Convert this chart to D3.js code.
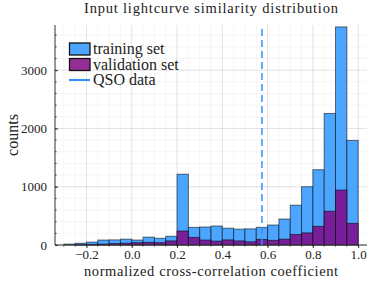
<!DOCTYPE html>
<html>
<head>
<meta charset="utf-8">
<script src="https://cdn.jsdelivr.net/npm/d3@7"></script>
<style>
  body { margin: 0; background: #fff; }
  text { font-family: "Liberation Serif", "DejaVu Serif", serif; fill: #222; }
</style>
</head>
<body>
<script>
// lower edges of the histogram bins (width 0.05)
const binStarts = [-0.30, -0.25, -0.20, -0.15, -0.10, -0.05, 0.00, 0.05, 0.10, 0.15,
                   0.20, 0.25, 0.30, 0.35, 0.40, 0.45, 0.50, 0.55, 0.60, 0.65,
                   0.70, 0.75, 0.80, 0.85, 0.90, 0.95];
const binWidth = 0.05;
const trainingCounts = [15, 30, 50, 85, 88, 100, 85, 135, 115, 150,
                        1215, 303, 309, 326, 288, 272, 277, 303, 343, 446,
                        683, 1000, 1292, 2257, 3742, 1795];
const validationCounts = [0, 5, 10, 15, 25, 30, 40, 45, 40, 70,
                          240, 130, 85, 66, 88, 70, 55, 95, 80, 100,
                          180, 208, 320, 580, 943, 372];
const qsoValue = 0.575;
const xTicks = [-0.2, 0.0, 0.2, 0.4, 0.6, 0.8, 1.0];
const yTicks = [0, 1000, 2000, 3000];

const width = 381, height = 286;
const margin = {top: 25, right: 14, bottom: 41, left: 55};
const serif = "'Liberation Serif', 'DejaVu Serif', serif";

const svg = d3.select("body").append("svg")
    .attr("width", width)
    .attr("height", height);

const x = d3.scaleLinear()
    .domain([-0.339, 1.039])
    .range([margin.left, width - margin.right]);

const y = d3.scaleLinear()
    .domain([0, 3775])
    .range([height - margin.bottom, margin.top]);

// grid, minor then major
const xMinor = d3.range(-0.3, 1.0001, 0.05);
const yMinor = d3.range(0, 3775, 200);
const grid = svg.append("g");
grid.selectAll(".xm").data(xMinor).join("line")
    .attr("x1", d => x(d)).attr("x2", d => x(d))
    .attr("y1", y.range()[0]).attr("y2", y.range()[1])
    .attr("stroke", "#000").attr("stroke-opacity", 0.04);
grid.selectAll(".ym").data(yMinor).join("line")
    .attr("x1", x.range()[0]).attr("x2", x.range()[1])
    .attr("y1", d => y(d)).attr("y2", d => y(d))
    .attr("stroke", "#000").attr("stroke-opacity", 0.04);
grid.selectAll(".xg").data(xTicks).join("line")
    .attr("x1", d => x(d)).attr("x2", d => x(d))
    .attr("y1", y.range()[0]).attr("y2", y.range()[1])
    .attr("stroke", "#000").attr("stroke-opacity", 0.08);
grid.selectAll(".yg").data(yTicks).join("line")
    .attr("x1", x.range()[0]).attr("x2", x.range()[1])
    .attr("y1", d => y(d)).attr("y2", d => y(d))
    .attr("stroke", "#000").attr("stroke-opacity", 0.08);

// bars
function drawBars(counts, color) {
    svg.append("g").selectAll("rect")
        .data(counts.map((c, i) => ({x0: binStarts[i], c})))
        .join("rect")
        .attr("x", d => x(d.x0))
        .attr("width", d => x(d.x0 + binWidth) - x(d.x0))
        .attr("y", d => y(d.c))
        .attr("height", d => y(0) - y(d.c))
        .attr("fill", color)
        .attr("stroke", "#000")
        .attr("stroke-opacity", 0.55)
        .attr("stroke-width", 1);
}
drawBars(trainingCounts, "#4ca6ff");
drawBars(validationCounts, "#761f98");

// axes
const xAxis = svg.append("g")
    .attr("transform", `translate(0,${y(0)})`)
    .call(d3.axisBottom(x).tickValues(xTicks).tickSize(3).tickPadding(3)
        .tickFormat(d => d3.format(".1f")(d).replace("-", "\u2212")))
    .attr("font-family", serif)
    .attr("font-size", 13);
xAxis.selectAll(".tick text").attr("dy", "0.62em");
xAxis.select(".domain").attr("stroke", "#333").attr("d", `M${x.range()[0]},0H${x.range()[1]}`);
xAxis.selectAll(".tick line").attr("stroke", "#333");
xAxis.selectAll(".minor").data(xMinor).join("line")
    .attr("x1", d => x(d)).attr("x2", d => x(d))
    .attr("y1", 0).attr("y2", 1.5).attr("stroke", "#333");

const yAxis = svg.append("g")
    .attr("transform", `translate(${x.range()[0]},0)`)
    .call(d3.axisLeft(y).tickValues(yTicks).tickSize(-3).tickPadding(8)
        .tickFormat(d3.format("d")))
    .attr("font-family", serif)
    .attr("font-size", 13);
yAxis.select(".domain").attr("stroke", "#333").attr("d", `M0,${y.range()[0]}V${y.range()[1]}`);
yAxis.selectAll(".tick line").attr("stroke", "#333");
yAxis.selectAll(".minor").data(yMinor).join("line")
    .attr("x1", 0).attr("x2", 1.5)
    .attr("y1", d => y(d)).attr("y2", d => y(d)).attr("stroke", "#333");

// QSO data line
svg.append("line")
    .attr("x1", x(qsoValue)).attr("x2", x(qsoValue))
    .attr("y1", y(0)).attr("y2", y.range()[1] + 2)
    .attr("stroke", "#2f8fff")
    .attr("stroke-width", 1.5)
    .attr("stroke-dasharray", "7,4");

// titles
const cx = (x.range()[0] + x.range()[1]) / 2;
svg.append("text")
    .attr("x", cx).attr("y", 13)
    .attr("text-anchor", "middle")
    .attr("font-size", 14.5)
    .attr("textLength", 254).attr("lengthAdjust", "spacing")
    .text("Input lightcurve similarity distribution");
svg.append("text")
    .attr("x", cx).attr("y", 276)
    .attr("text-anchor", "middle")
    .attr("font-size", 14.5)
    .attr("textLength", 254).attr("lengthAdjust", "spacing")
    .text("normalized cross-correlation coefficient");
svg.append("text")
    .attr("transform", `translate(18,${(y.range()[0] + y.range()[1]) / 2}) rotate(-90)`)
    .attr("text-anchor", "middle")
    .attr("font-size", 16)
    .text("counts");

// legend
const legendItems = [
    {label: "training set", type: "patch", color: "#4ca6ff"},
    {label: "validation set", type: "patch", color: "#942e96"},
    {label: "QSO data", type: "line", color: "#2f8fff"}
];
const legend = svg.append("g");
legendItems.forEach((d, i) => {
    const cy = 49 + i * 15.5;
    if (d.type === "patch") {
        legend.append("rect")
            .attr("x", 69.5).attr("y", cy - 6)
            .attr("width", 20.5).attr("height", 12)
            .attr("fill", d.color)
            .attr("stroke", "#111").attr("stroke-width", 1.3);
    } else {
        legend.append("line")
            .attr("x1", 69).attr("x2", 90)
            .attr("y1", cy).attr("y2", cy)
            .attr("stroke", d.color).attr("stroke-width", 2);
    }
    legend.append("text")
        .attr("x", 93).attr("y", cy + 5)
        .attr("font-size", 16)
        .text(d.label);
});
</script>
</body>
</html>
